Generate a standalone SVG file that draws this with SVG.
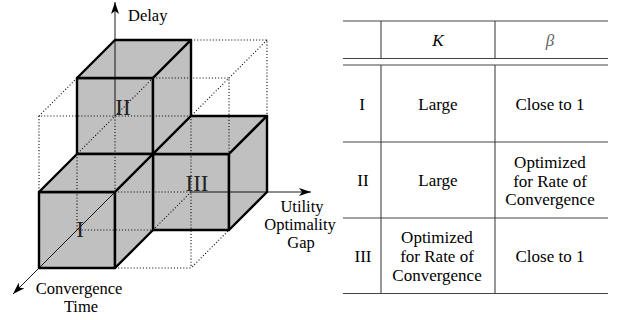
<svg xmlns="http://www.w3.org/2000/svg" width="618" height="320" viewBox="0 0 618 320">
<defs>
<style>
.face{fill:#c0c0c0;stroke:#000;stroke-width:2.4;stroke-linejoin:round}
.dot{fill:none;stroke:#111;stroke-width:1.1;stroke-dasharray:1.1 2}
.axis{fill:none;stroke:#000;stroke-width:0.9}
.rule{stroke:#444;stroke-width:1.1;fill:none}
</style>
<marker id="arr" viewBox="0 0 12 8" refX="12" refY="4" markerWidth="12" markerHeight="8" markerUnits="userSpaceOnUse" orient="auto">
<path d="M0,0 L12,4 L0,8 L3,4 z" fill="#000"/>
</marker>
</defs>
<rect width="618" height="320" fill="#fff"/>

<g id="cube-II">
<polygon class="face" points="77,78 153,78 153,154 77,154"/>
<polygon class="face" points="77,78 115,40 191,40 153,78"/>
<polygon class="face" points="153,78 191,40 191,116 153,154"/>
</g>
<g id="cube-III">
<polygon class="face" points="153,154 229,154 229,230 153,230"/>
<polygon class="face" points="153,154 191,116 267,116 229,154"/>
<polygon class="face" points="229,154 267,116 267,192 229,230"/>
</g>
<g id="cube-I">
<polygon class="face" points="39,192 115,192 115,268 39,268"/>
<polygon class="face" points="39,192 77,154 153,154 115,192"/>
<polygon class="face" points="115,192 153,154 153,230 115,268"/>
</g>

<g id="guides">
<path class="dot" d="M191,40 H267 V116 M267,40 L191,116 M153,78 H229 V154 M77,78 L39,116 H191 M39,116 V192 M153,78 L77,154 M77,154 V230 H153 M153,230 L191,192 M191,116 V268 M115,268 H191 L229,230"/>
</g>

<g id="connectors">
<path class="dot" d="M115,192 V116 M115,192 H191"/>
<path class="axis" d="M115,116 V2" marker-end="url(#arr)"/>
<path class="axis" d="M191,192 H311" marker-end="url(#arr)"/>
<path class="axis" d="M115,192 L13,294" marker-end="url(#arr)"/>
</g>

<g id="labels" font-family="'Liberation Serif', 'Times New Roman', serif" fill="#000">
<g font-size="23" text-anchor="middle" fill="#222">
<text x="123" y="115">II</text>
<text x="197" y="191">III</text>
<text x="80" y="237">I</text>
</g>
<g font-size="16.5">
<text x="128" y="21">Delay</text>
<text x="302" y="212" text-anchor="middle">Utility</text>
<text x="300" y="230" text-anchor="middle">Optimality</text>
<text x="301" y="248" text-anchor="middle">Gap</text>
<text x="79" y="294" text-anchor="middle">Convergence</text>
<text x="81" y="312" text-anchor="middle">Time</text>
</g>
</g>

<g id="table">
<path class="rule" d="M343,21 H608 M343,58.5 H608 M343,65 H608 M343,142 H608 M343,218 H608 M343,293.5 H608"/>
<path class="rule" d="M381,21 V58.5 M495,21 V58.5 M381,65 V293.5 M495,65 V293.5"/>
<g font-family="'Liberation Serif', 'Times New Roman', serif" font-size="17" text-anchor="middle" fill="#000">
<text x="438" y="46" font-style="italic">K</text>
<text x="550" y="46" font-style="italic" fill="#666">β</text>
<text x="362" y="110">I</text>
<text x="438" y="110">Large</text>
<text x="550" y="110">Close to 1</text>
<text x="363" y="186">II</text>
<text x="438" y="186">Large</text>
<text x="550" y="168">Optimized</text>
<text x="550" y="187">for Rate of</text>
<text x="550" y="205">Convergence</text>
<text x="363" y="262">III</text>
<text x="437" y="243">Optimized</text>
<text x="437" y="262">for Rate of</text>
<text x="437" y="281">Convergence</text>
<text x="550" y="262">Close to 1</text>
</g>
</g>
</svg>
